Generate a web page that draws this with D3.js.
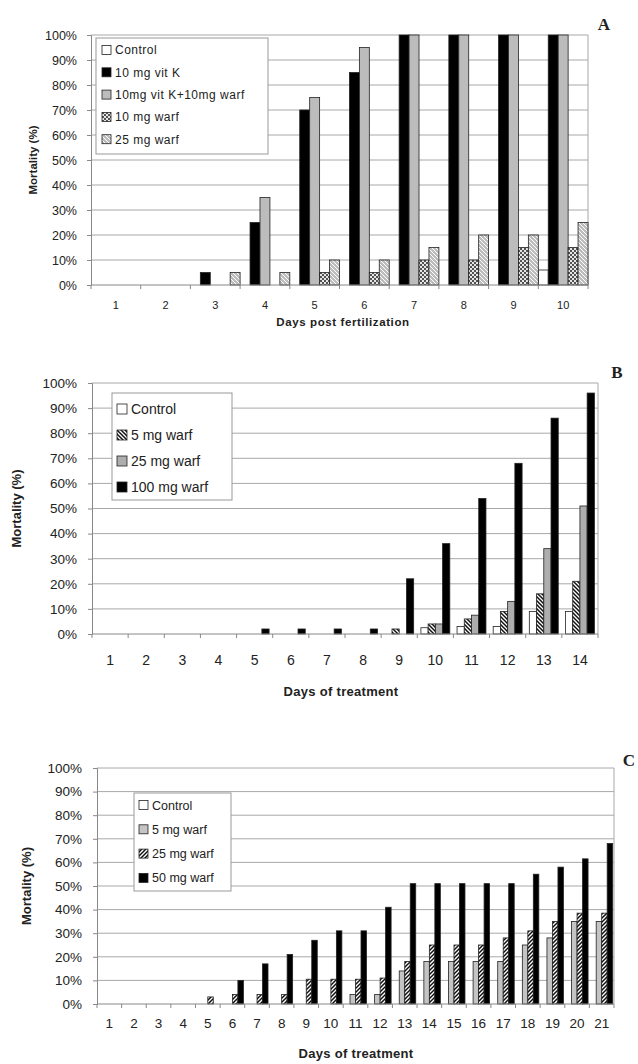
<!DOCTYPE html>
<html>
<head>
<meta charset="utf-8">
<script src="https://cdn.jsdelivr.net/npm/d3@7"></script>
<style>
  body { margin: 0; background: #fff; }
  svg text { font-family: "Liberation Sans", Arial, sans-serif; fill: #222; }
</style>
</head>
<body>
<svg id="fig" width="638" height="1064"></svg>
<script>
// ---- data (mortality %) ----
var daysA = [1, 2, 3, 4, 5, 6, 7, 8, 9, 10];
var seriesA = ["Control", "10 mg vit K", "10mg vit K+10mg warf", "10 mg warf", "25 mg warf"];
var controlA  = [0, 0, 0, 0, 0, 0, 0, 0, 0, 6];
var vitKA     = [0, 0, 5, 25, 70, 85, 100, 100, 100, 100];
var vitKWarfA = [0, 0, 0, 35, 75, 95, 100, 100, 100, 100];
var warf10A   = [0, 0, 0, 0, 5, 5, 10, 10, 15, 15];
var warf25A   = [0, 0, 5, 5, 10, 10, 15, 20, 20, 25];

var daysB = [1, 2, 3, 4, 5, 6, 7, 8, 9, 10, 11, 12, 13, 14];
var seriesB = ["Control", "5 mg warf", "25 mg warf", "100 mg warf"];
var controlB  = [0, 0, 0, 0, 0, 0, 0, 0, 0, 2.5, 3, 3, 9, 9];
var warf5B    = [0, 0, 0, 0, 0, 0, 0, 0, 2, 4, 6, 9, 16, 21];
var warf25B   = [0, 0, 0, 0, 0, 0, 0, 0, 0, 4, 7.5, 13, 34, 51];
var warf100B  = [0, 0, 0, 0, 2, 2, 2, 2, 22, 36, 54, 68, 86, 96];

var daysC = [1, 2, 3, 4, 5, 6, 7, 8, 9, 10, 11, 12, 13, 14, 15, 16, 17, 18, 19, 20, 21];
var seriesC = ["Control", "5 mg warf", "25 mg warf", "50 mg warf"];
var controlC  = [0, 0, 0, 0, 0, 0, 0, 0, 0, 0, 0, 0, 0, 0, 0, 0, 0, 0, 0, 0, 0];
var warf5C    = [0, 0, 0, 0, 0, 0, 0, 0, 0, 0, 4, 4, 14, 18, 18, 18, 18, 25, 28, 35, 35];
var warf25C   = [0, 0, 0, 0, 3, 4, 4, 4, 10.5, 10.5, 10.5, 11, 18, 25, 25, 25, 28, 31, 35, 38.5, 38.5];
var warf50C   = [0, 0, 0, 0, 0, 10, 17, 21, 27, 31, 31, 41, 51, 51, 51, 51, 51, 55, 58, 61.5, 68];

var yTicks = [0, 10, 20, 30, 40, 50, 60, 70, 80, 90, 100];

var svg = d3.select("#fig");
var defs = svg.append("defs");

// fill patterns
function pattern(id, bg, draw) {
  var p = defs.append("pattern").attr("id", id)
    .attr("patternUnits", "userSpaceOnUse").attr("width", 4).attr("height", 4);
  p.append("rect").attr("width", 4).attr("height", 4).attr("fill", bg);
  draw(p);
}
pattern("dotsA", "#e6e6e6", function(p) {
  p.append("circle").attr("cx", 1).attr("cy", 1).attr("r", 1).attr("fill", "#222");
  p.append("circle").attr("cx", 3).attr("cy", 3).attr("r", 1).attr("fill", "#222");
});
pattern("hatchA", "#bdbdbd", function(p) {
  p.append("path").attr("d", "M0,0L4,4M-1,3L1,5M3,-1L5,1").attr("stroke", "#fff").attr("stroke-width", 1);
});
pattern("stripeB", "#fff", function(p) {
  p.append("path").attr("d", "M0,0L4,4M-1,3L1,5M3,-1L5,1").attr("stroke", "#111").attr("stroke-width", 1.5);
});
pattern("stripeC", "#fff", function(p) {
  p.append("path").attr("d", "M0,4L4,0M-1,1L1,-1M3,5L5,3").attr("stroke", "#111").attr("stroke-width", 1.5);
});

function drawPanel(o) {
  var g = svg.append("g");
  var xb = d3.scaleBand().domain(o.days).range([o.left, o.right]);
  var xs = d3.scaleBand().domain(d3.range(o.series.length))
    .range([0, xb.bandwidth()]).paddingOuter(o.pad);
  var y = d3.scaleLinear().domain([0, 100]).range([o.bottom, o.top]);

  // grid + frame
  g.selectAll(".grid").data(yTicks.slice(1)).enter().append("line")
    .attr("x1", o.left).attr("x2", o.right)
    .attr("y1", function(d) { return y(d); }).attr("y2", function(d) { return y(d); })
    .attr("stroke", "#a8a8a8").attr("stroke-width", 1);
  g.append("line").attr("x1", o.right).attr("x2", o.right)
    .attr("y1", y(100)).attr("y2", y(0)).attr("stroke", "#a8a8a8");

  // bars
  o.values.forEach(function(vals, si) {
    g.selectAll(".b" + si).data(vals).enter().append("rect")
      .attr("x", function(d, i) { return xb(o.days[i]) + xs(si); })
      .attr("width", xs.bandwidth())
      .attr("y", function(d) { return y(d); })
      .attr("height", function(d) { return y(0) - y(d); })
      .attr("fill", o.fills[si])
      .attr("stroke", function(d) { return d > 0 ? "#222" : "none"; })
      .attr("stroke-width", 0.8);
  });

  // y axis
  var ya = g.append("g").attr("transform", "translate(" + o.left + ",0)")
    .call(d3.axisLeft(y).tickValues(yTicks).tickFormat(function(d) { return d + "%"; })
      .tickSize(4).tickPadding(o.tickPad));
  ya.select(".domain").attr("stroke", "#888");
  ya.selectAll(".tick line").attr("stroke", "#888");
  ya.selectAll("text").style("font-size", o.tickFont + "px").attr("fill", "#222");

  // x axis: baseline with ticks at category boundaries
  g.append("line").attr("x1", o.left).attr("x2", o.right)
    .attr("y1", y(0)).attr("y2", y(0)).attr("stroke", "#888");
  var bounds = o.days.map(function(d) { return xb(d); }).concat([o.right]);
  g.selectAll(".xt").data(bounds).enter().append("line")
    .attr("x1", function(d) { return d; }).attr("x2", function(d) { return d; })
    .attr("y1", y(0)).attr("y2", y(0) + 4).attr("stroke", "#888");
  g.selectAll(".xl").data(o.days).enter().append("text")
    .attr("x", function(d) { return xb(d) + xb.bandwidth() / 2; })
    .attr("y", o.xLabelY).attr("text-anchor", "middle")
    .style("font-size", o.xFont + "px")
    .text(function(d) { return d; });

  // titles
  g.append("text").attr("x", o.titleX).attr("y", o.titleY).attr("text-anchor", "middle")
    .style("font-size", o.titleFont + "px").style("font-weight", "bold")
    .style("letter-spacing", o.titleSpacing + "px").text(o.title);
  g.append("text")
    .attr("transform", "translate(" + o.yTitleX + "," + ((o.top + o.bottom) / 2) + ") rotate(-90)")
    .attr("text-anchor", "middle").attr("dy", "0.35em")
    .style("font-size", o.titleFont + "px").style("font-weight", "bold")
    .text("Mortality (%)");
  g.append("text").attr("x", o.letter[0]).attr("y", o.letter[1])
    .attr("text-anchor", "middle")
    .style("font-family", "'Liberation Serif', 'DejaVu Serif', serif")
    .style("font-size", "17px").style("font-weight", "bold").text(o.letter[2]);

  // legend
  var L = o.legend;
  var lg = g.append("g").attr("transform", "translate(" + L.x + "," + L.y + ")");
  lg.append("rect").attr("width", L.w).attr("height", L.h)
    .attr("fill", "#fff").attr("stroke", "#999").attr("stroke-width", 1);
  o.series.forEach(function(s, i) {
    var cy = L.first + i * L.step;
    lg.append("rect").attr("x", L.sx).attr("y", cy - L.sw / 2)
      .attr("width", L.sw).attr("height", L.sw)
      .attr("fill", o.fills[i]).attr("stroke", "#222").attr("stroke-width", 0.8);
    lg.append("text").attr("x", L.sx + L.sw + 4).attr("y", cy).attr("dy", "0.36em")
      .style("font-size", L.font + "px").style("letter-spacing", L.spacing + "px").text(s);
  });
}

drawPanel({
  days: daysA, series: seriesA,
  values: [controlA, vitKA, vitKWarfA, warf10A, warf25A],
  fills: ["#fff", "#000", "#bcbcbc", "url(#dotsA)", "url(#hatchA)"],
  left: 91, right: 588, top: 35, bottom: 285, pad: 0,
  tickFont: 12.5, tickPad: 10, xFont: 11, xLabelY: 309,
  title: "Days post fertilization", titleX: 343, titleY: 326, titleFont: 11.5, titleSpacing: 0.6,
  yTitleX: 33, letter: [604, 30, "A"],
  legend: { x: 96, y: 38, w: 172, h: 116, first: 12, step: 22.3, sx: 6, sw: 9, font: 12, spacing: 0.5 }
});

drawPanel({
  days: daysB, series: seriesB,
  values: [controlB, warf5B, warf25B, warf100B],
  fills: ["#fff", "url(#stripeB)", "#adadad", "#000"],
  left: 92, right: 598, top: 383, bottom: 634, pad: 0.5,
  tickFont: 13.5, tickPad: 11, xFont: 14, xLabelY: 665,
  title: "Days of treatment", titleX: 341, titleY: 696, titleFont: 13, titleSpacing: 0.3,
  yTitleX: 16, letter: [617, 378, "B"],
  legend: { x: 112, y: 393, w: 120, h: 107, first: 16, step: 26, sx: 5, sw: 10, font: 14, spacing: 0 }
});

drawPanel({
  days: daysC, series: seriesC,
  values: [controlC, warf5C, warf25C, warf50C],
  fills: ["#fff", "#c4c4c4", "url(#stripeC)", "#000"],
  left: 97, right: 614, top: 768, bottom: 1004, pad: 0.24,
  tickFont: 13.5, tickPad: 11, xFont: 13.5, xLabelY: 1028,
  title: "Days of treatment", titleX: 356, titleY: 1058, titleFont: 13, titleSpacing: 0.3,
  yTitleX: 26, letter: [629, 766, "C"],
  legend: { x: 134, y: 793, w: 97, h: 98, first: 12, step: 24.3, sx: 5, sw: 9, font: 12.5, spacing: 0 }
});
</script>
</body>
</html>
